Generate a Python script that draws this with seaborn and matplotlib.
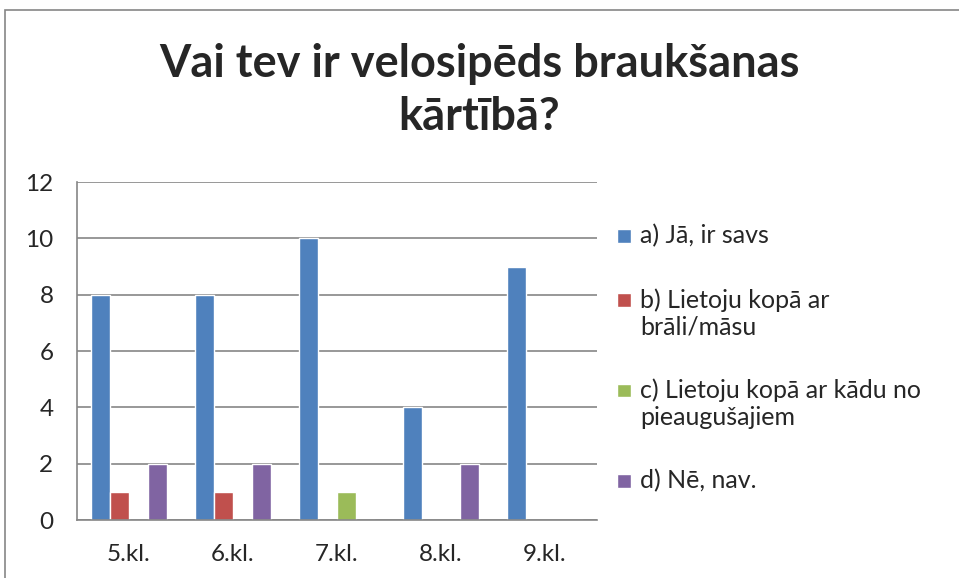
import pandas as pd
import matplotlib
matplotlib.use("Agg")
import matplotlib.pyplot as plt
import seaborn as sns
from matplotlib.patches import Rectangle
from matplotlib.legend_handler import HandlerPatch

# Data
classes = ["5.kl.", "6.kl.", "7.kl.", "8.kl.", "9.kl."]
answers = [
    "a) Jā, ir savs",
    "b) Lietoju kopā ar\nbrāli/māsu",
    "c) Lietoju kopā ar kādu no\npieaugušajiem",
    "d) Nē, nav.",
]
ans_a = [8, 8, 10, 4, 9]
ans_b = [1, 1, 0, 0, 0]
ans_c = [0, 0, 1, 0, 0]
ans_d = [2, 2, 0, 2, 0]
colors = ["#4F81BD", "#C0504D", "#9BBB59", "#8064A2"]

rows = []
for name, vals in zip(answers, [ans_a, ans_b, ans_c, ans_d]):
    for c, v in zip(classes, vals):
        rows.append({"klase": c, "atbilde": name, "skaits": v})
df = pd.DataFrame(rows)

sns.set_style("white")
plt.rcParams["font.family"] = ["Lato", "DejaVu Sans"]

fig = plt.figure(figsize=(9.59, 5.78), dpi=100)
ax = fig.add_axes([0.0803, 0.1003, 0.5422, 0.5848])

sns.barplot(data=df, x="klase", y="skaits", hue="atbilde", palette=colors,
            width=0.74, gap=0, saturation=1, ax=ax, legend=True)

ax.set_ylim(0, 12)
ax.set_yticks(range(0, 13, 2))
ax.set_xlim(-0.5, 4.5)
ax.grid(axis="y", color="#868686", linewidth=1.2)
ax.set_axisbelow(True)
for s in ["top", "right"]:
    ax.spines[s].set_visible(False)
for s in ["left", "bottom"]:
    ax.spines[s].set_color("#868686")
    ax.spines[s].set_linewidth(1.2)
ax.tick_params(axis="y", length=5, color="#868686", width=1.2, pad=12, labelsize=17.5)
ax.tick_params(axis="x", length=0, pad=17, labelsize=17.5)
ax.set_xlabel("")
ax.set_ylabel("")


# small square marker centred in a taller handle box (so it sits on the first line)
def square(legend, orig_handle, xdescent, ydescent, width, height, fontsize):
    s = width
    return Rectangle((-xdescent, -ydescent + (height - s) / 2), s, s)


handles, labels = ax.get_legend_handles_labels()
leg = ax.legend(handles, labels, loc="upper left", bbox_to_anchor=(1.02, 0.905),
                frameon=False, fontsize=18, handlelength=0.55, handleheight=1.1,
                handletextpad=0.36, labelspacing=1.6, borderaxespad=0,
                handler_map={Rectangle: HandlerPatch(patch_func=square)})
for col in leg._legend_handle_box.get_children():
    for item in col.get_children():
        item.align = "top"

fig.suptitle("Vai tev ir velosipēds braukšanas\nkārtībā?", x=0.5, y=0.925,
             fontsize=32.5, fontweight="bold", linespacing=1.3)

fig.patches.append(Rectangle((5 / 959, -0.1), 1.2, 1 - 10 / 578 + 0.1,
                             transform=fig.transFigure, fill=False,
                             edgecolor="#868686", linewidth=1.2))

fig.savefig("out.png", dpi=100)
